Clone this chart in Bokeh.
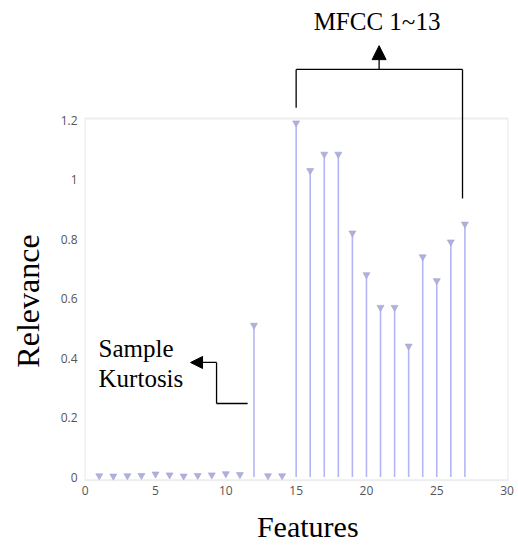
from bokeh.plotting import figure
from bokeh.models import Range1d, FixedTicker, Arrow, NormalHead, Label, ColumnDataSource, BoxAnnotation
from bokeh.embed import file_html
from bokeh.resources import INLINE

features = list(range(1, 28))
relevance = [0.004, 0.003, 0.004, 0.005, 0.010, 0.007, 0.003, 0.005, 0.007,
             0.011, 0.008, 0.51, 0.004, 0.004,
             1.19, 1.03, 1.085, 1.085, 0.82, 0.68, 0.57, 0.57, 0.44,
             0.74, 0.66, 0.79, 0.85]
x_ticks = [0, 5, 10, 15, 20, 25, 30]
y_ticks = [0, 0.2, 0.4, 0.6, 0.8, 1.0, 1.2]
y_axis_max = 1.205
x_title = "Features"
y_title = "Relevance"

NBSP = "\u00a0"

src = ColumnDataSource(dict(x=features, y=relevance, y0=[0] * len(features)))

p = figure(width=517, height=547, output_backend="svg", toolbar_location=None,
           x_range=Range1d(-0.05, 30.1), y_range=Range1d(-0.0151, 1.6017),
           min_border_left=84, min_border_right=9, min_border_top=0,
           min_border_bottom=66)

p.segment(x0="x", y0="y0", x1="x", y1="y", source=src,
          line_color="#b5b5f5", line_width=1.6)
p.scatter(x="x", y="y", source=src, marker="inverted_triangle", size=7,
          fill_color="#b0b0dc", line_color="#a4a4d0", line_width=0.6)

p.xgrid.visible = False
p.ygrid.visible = False
p.outline_line_color = None

# visible plot box (axes area only up to 1.2)
p.add_layout(BoxAnnotation(left=-0.035, right=30.08, bottom=-0.011, top=y_axis_max,
                           fill_alpha=0, line_color="#c2c2c8", line_width=2))

for ax in (p.xaxis[0], p.yaxis[0]):
    ax.axis_line_color = None
    ax.major_tick_line_color = None
    ax.minor_tick_line_color = None
    ax.major_tick_out = 0
    ax.major_tick_in = 0
    ax.minor_tick_out = 0
    ax.major_label_text_font = "Open Sans"
    ax.major_label_text_font_size = "12px"
    ax.major_label_text_color = "#555555"
    ax.axis_label_text_font = "Liberation Serif"
    ax.axis_label_text_font_style = "normal"
    ax.axis_label_text_color = "#000000"

p.xaxis.ticker = FixedTicker(ticks=x_ticks)
p.yaxis.ticker = FixedTicker(ticks=y_ticks)
p.yaxis.major_label_overrides = {0: "0", 1: "1"}
p.xaxis.major_label_standoff = 4
p.yaxis.major_label_standoff = 7
# titles centred on the visible box (the frame also holds the annotation area above it)
p.yaxis.axis_label = y_title + NBSP * 15
p.yaxis.axis_label_text_font_size = "32px"
p.yaxis.axis_label_standoff = 12
p.xaxis.axis_label = NBSP * 3 + x_title
p.xaxis.axis_label_text_font_size = "30px"
p.xaxis.axis_label_standoff = 12

def seg(x0, y0, x1, y1):
    p.add_layout(Arrow(end=None, x_start=x0, y_start=y0, x_end=x1, y_end=y1,
                       line_color="black", line_width=1.3))

# MFCC bracket
seg(15.0, 1.241, 15.0, 1.370)
seg(15.0, 1.370, 26.83, 1.370)
seg(26.83, 1.370, 26.83, 0.936)
p.add_layout(Arrow(end=NormalHead(size=14, fill_color="black", line_color="black"),
                   x_start=20.9, y_start=1.370, x_end=20.9, y_end=1.45,
                   line_color="black", line_width=1.3))
p.add_layout(Label(x=20.75, y=1.531, text="MFCC 1~13", text_align="center",
                   text_baseline="alphabetic", text_font="Liberation Serif",
                   text_font_size="25px", text_color="black"))

# Kurtosis arrow
seg(11.55, 0.247, 9.34, 0.247)
seg(9.34, 0.247, 9.34, 0.385)
p.add_layout(Arrow(end=NormalHead(size=12, fill_color="black", line_color="black"),
                   x_start=9.34, y_start=0.385, x_end=7.49, y_end=0.385,
                   line_color="black", line_width=1.3))
p.add_layout(Label(x=0.95, y=0.4317, text="Sample", text_align="left",
                   text_baseline="alphabetic", text_font="Liberation Serif",
                   text_font_size="25px", text_color="black"))
p.add_layout(Label(x=0.95, y=0.3308, text="Kurtosis", text_align="left",
                   text_baseline="alphabetic", text_font="Liberation Serif",
                   text_font_size="25px", text_color="black"))

open("out.html", "w").write(file_html(p, INLINE))
